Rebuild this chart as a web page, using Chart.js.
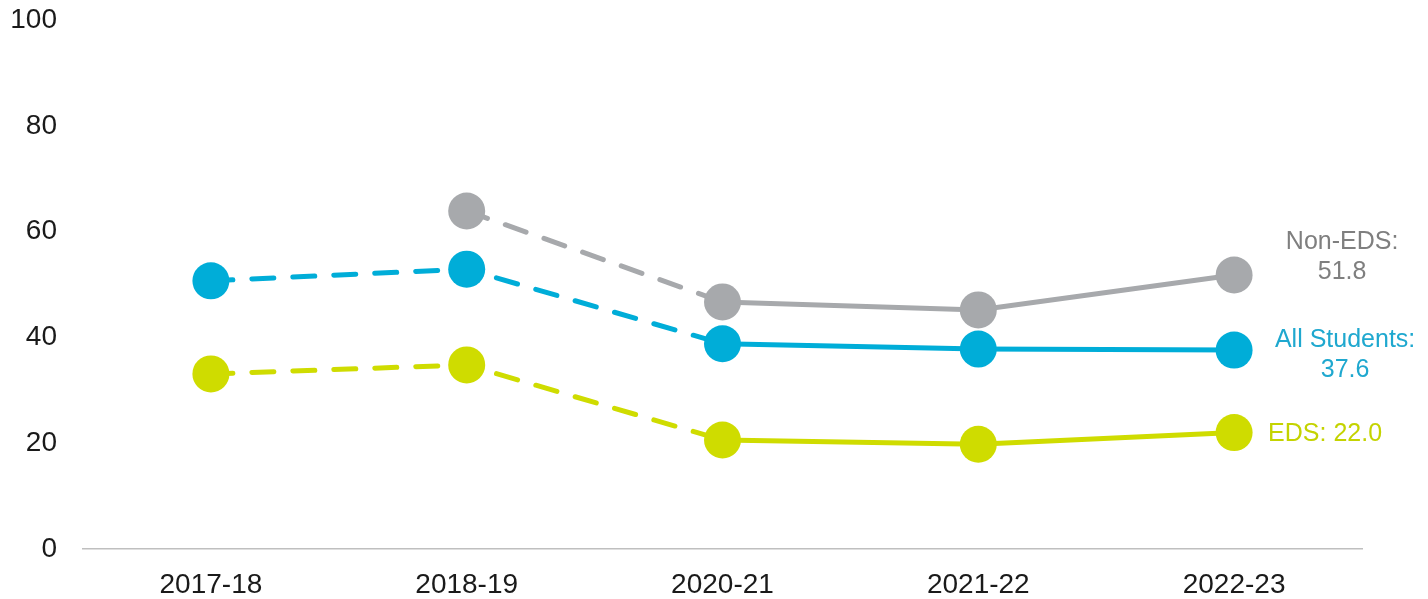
<!DOCTYPE html>
<html>
<head>
<meta charset="utf-8">
<script src="https://cdn.jsdelivr.net/npm/chart.js@4"></script>
<style>
  html, body { margin: 0; padding: 0; background: #fff; }
  #wrap { width: 1428px; height: 599px; position: relative; }
</style>
</head>
<body>
<div id="wrap"><canvas id="c" width="1428" height="599"></canvas></div>
<script>
const categories = ["2017-18", "2018-19", "2020-21", "2021-22", "2022-23"];
const nonEds = [null, 63.9, 46.7, 45.2, 51.8];
const allStudents = [50.7, 52.9, 38.8, 37.8, 37.6];
const eds = [33.1, 34.8, 20.6, 19.8, 22.0];
const yTicks = [0, 20, 40, 60, 80, 100];
const seriesNames = ["Non-EDS", "All Students", "EDS"];

const colors = ["#A7A9AC", "#00ADD8", "#CFDC00"];
const textColors = ["#7F7F7F", "#1FA8CF", "#C4D300"];
const DASH = [22, 19];

function mkSet(name, data, i) {
  return {
    label: name,
    data: data,
    borderColor: colors[i],
    backgroundColor: colors[i],
    pointBackgroundColor: colors[i],
    pointBorderColor: colors[i],
    pointRadius: 18.5,
    pointBorderWidth: 0,
    pointHoverRadius: 18.5,
    borderWidth: 5,
    borderCapStyle: 'round',
    tension: 0,
    segment: {
      borderDash: ctx => ctx.p1DataIndex <= 2 ? DASH : undefined
    }
  };
}

const endLabelPlugin = {
  id: 'endLabels',
  afterDatasetsDraw(chart) {
    const ctx = chart.ctx;
    ctx.save();
    ctx.font = '25px "Liberation Sans", Arial, sans-serif';
    ctx.textBaseline = 'middle';
    chart.data.datasets.forEach((ds, i) => {
      const meta = chart.getDatasetMeta(i);
      const last = ds.data.length - 1;
      const pt = meta.data[last];
      const val = ds.data[last].toFixed(1);
      ctx.fillStyle = textColors[i];
      if (i === 0) {
        ctx.textAlign = 'center';
        ctx.fillText(seriesNames[i] + ':', pt.x + 108, pt.y - 33);
        ctx.fillText(val, pt.x + 108, pt.y - 3);
      } else if (i === 1) {
        ctx.textAlign = 'center';
        ctx.fillText(seriesNames[i] + ':', pt.x + 111, pt.y - 10);
        ctx.fillText(val, pt.x + 111, pt.y + 20);
      } else {
        ctx.textAlign = 'left';
        ctx.fillText(seriesNames[i] + ': ' + val, pt.x + 34, pt.y + 1);
      }
    });
    ctx.restore();
  }
};

new Chart(document.getElementById('c'), {
  type: 'line',
  data: {
    labels: categories,
    datasets: [
      mkSet(seriesNames[0], nonEds, 0),
      mkSet(seriesNames[1], allStudents, 1),
      mkSet(seriesNames[2], eds, 2)
    ]
  },
  options: {
    responsive: false,
    animation: false,
    layout: { padding: { left: 0, right: 66, top: 20, bottom: 0 } },
    plugins: {
      legend: { display: false },
      tooltip: { enabled: false }
    },
    scales: {
      x: {
        offset: true,
        grid: { display: false },
        border: { display: true, color: '#BFBFBF', width: 1.5 },
        ticks: {
          color: '#1a1a1a',
          font: { family: '"Liberation Sans", Arial, sans-serif', size: 28 },
          padding: 11,
          maxRotation: 0
        },
        afterFit(scale) { scale.height = 50; scale.paddingLeft = 0; scale.paddingRight = 0; }
      },
      y: {
        min: 0,
        max: 100,
        afterBuildTicks(scale) { scale.ticks = yTicks.map(v => ({ value: v })); },
        grid: { display: false },
        border: { display: false },
        ticks: {
          color: '#1a1a1a',
          font: { family: '"Liberation Sans", Arial, sans-serif', size: 28 },
          padding: 18
        },
        afterFit(scale) { scale.width = 83; scale.paddingTop = 0; scale.paddingBottom = 0; }
      }
    }
  },
  plugins: [endLabelPlugin]
});
</script>
</body>
</html>
